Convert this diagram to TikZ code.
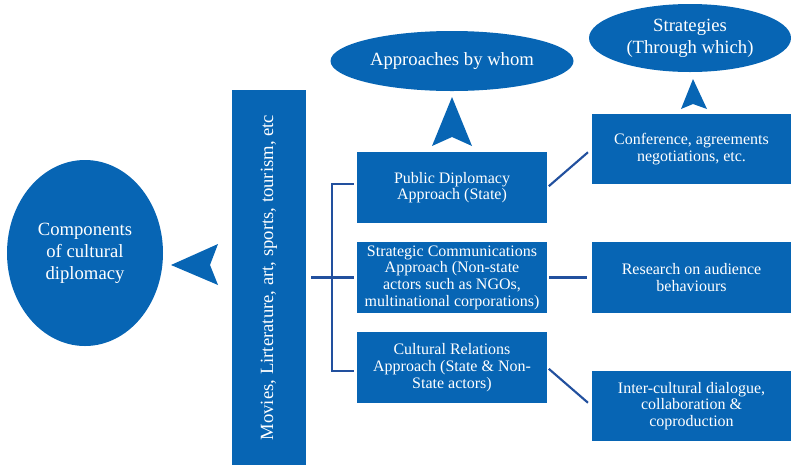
\documentclass[tikz,border=0pt]{standalone}
\usepackage{fontspec}
\setmainfont{Liberation Serif}
\usetikzlibrary{shapes.geometric, positioning}
\definecolor{panelblue}{HTML}{0765B4}
\definecolor{linkblue}{HTML}{22509E}

\begin{document}
\begin{tikzpicture}[x=0.75pt, y=-0.75pt,
    panel/.style={fill=panelblue, text=white, inner sep=0pt, align=center,
        font=\fontsize{12}{12.5}\selectfont},
    oval/.style={ellipse, fill=panelblue, text=white, inner sep=0pt, align=center,
        font=\fontsize{14}{16.5}\selectfont},
    link/.style={draw=linkblue, line width=1.6pt},
    chevron/.style={fill=panelblue}]
    \useasboundingbox (0,0) rectangle (791,465);

    % ── Left: components and the media column ───────────────────────
    \node[oval, minimum width=117pt, minimum height=139.5pt] (comp) at (85,253)
        {Components\\of cultural\\diplomacy};
    \node[panel, minimum width=55.5pt, minimum height=281.25pt,
        font=\fontsize{14}{16.5}\selectfont] (media) at (269,277.5)
        {\rotatebox{90}{Movies, Lirterature, art, sports, tourism, etc}};

    % Arrow into the components
    \fill[chevron] (171,265) -- (218,244) -- (210,265) -- (218,285) -- cycle;

    % ── Middle: approaches ──────────────────────────────────────────
    \node[oval, minimum width=182.25pt, minimum height=45pt] (whom) at (452,61)
        {Approaches by whom};
    \node[panel, minimum width=142.5pt, minimum height=53.25pt] (pd) at (452,187.5)
        {Public Diplomacy\\Approach (State)};
    \node[panel, minimum width=142.5pt, minimum height=53.25pt] (sc) at (452,277.5)
        {Strategic Communications\\Approach (Non-state\\actors such as NGOs,\\multinational corporations)};
    \node[panel, minimum width=142.5pt, minimum height=53.25pt] (cr) at (452,367.5)
        {Cultural Relations\\Approach (State \& Non-\\State actors)};

    \fill[chevron] (452,97) -- (472,146) -- (452,137) -- (432,146) -- cycle;

    % ── Right: strategies ───────────────────────────────────────────
    \node[oval, minimum width=151.5pt, minimum height=51pt] (through) at (690,38)
        {Strategies\\(Through which)};
    \node[panel, minimum width=149.25pt, minimum height=52.5pt] (conf) at (691.5,149)
        {Conference, agreements\\negotiations, etc.};
    \node[panel, minimum width=149.25pt, minimum height=53.25pt] (research) at (691.5,277.5)
        {Research on audience\\behaviours};
    \node[panel, minimum width=149.25pt, minimum height=52.5pt] (inter) at (691.5,406)
        {Inter-cultural dialogue,\\collaboration \&\\coproduction};

    \fill[chevron] (693,79) -- (707,109) -- (693,104) -- (681,109) -- cycle;

    % Bracket and links
    \coordinate (fork) at (332,277.5);
    \draw[link, shorten <=3.75pt, shorten >=2.25pt] (media.east) -- (sc.west);
    \draw[link, shorten <=2.25pt, shorten >=2.25pt] ([yshift=2.5pt]pd.west) -| (fork) |- ([yshift=-2.5pt]cr.west);
    \draw[link, shorten <=1.5pt, shorten >=3.75pt] (pd.east) -- (conf.west);
    \draw[link, shorten <=1.5pt, shorten >=3.75pt] (sc.east) -- (research.west);
    \draw[link, shorten <=1.5pt, shorten >=3.75pt] (cr.east) -- (inter.west);
\end{tikzpicture}
\end{document}
